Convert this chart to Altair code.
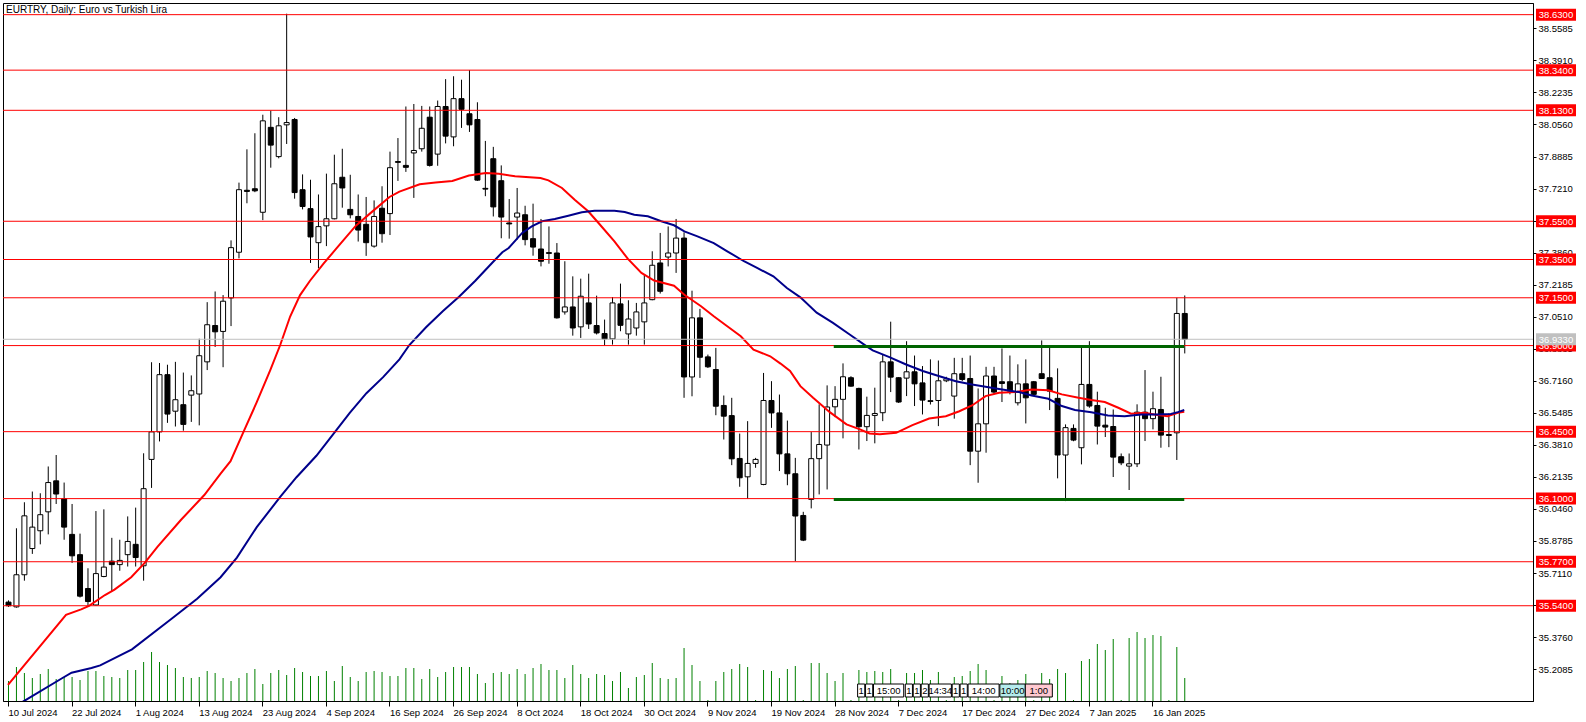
import altair as alt
import pandas as pd

# ---------------- data ----------------
opens = [35.559, 35.534, 35.702, 35.839, 35.932, 36.031, 36.193, 36.100, 35.913, 35.807,
         35.630, 35.544, 35.693, 35.773, 35.755, 35.807, 35.861, 35.749, 36.305, 36.449,
         36.748, 36.557, 36.591, 36.641, 36.647, 36.815, 37.005, 36.974, 37.149, 37.388,
         37.712, 37.720, 37.597, 38.041, 37.888, 38.054, 38.082, 37.715, 37.616, 37.438,
         37.526, 37.563, 37.780, 37.612, 37.575, 37.534, 37.420, 37.618, 37.590, 37.862,
         37.842, 37.907, 37.929, 38.094, 37.901, 38.150, 37.991, 38.191, 38.112, 38.082,
         37.722, 37.877, 37.762, 37.541, 37.572, 37.584, 37.459, 37.405, 37.386, 37.384,
         37.076, 37.102, 36.998, 37.123, 37.005, 36.963, 36.935, 37.118, 36.961, 36.992,
         37.024, 37.140, 37.332, 37.363, 37.384, 37.462, 36.736, 37.045, 36.841, 36.775,
         36.587, 36.534, 36.310, 36.214, 36.284, 36.174, 36.613, 36.548, 36.334, 36.230,
         36.012, 36.096, 36.309, 36.380, 36.580, 36.619, 36.732, 36.676, 36.476, 36.535,
         36.549, 36.815, 36.732, 36.730, 36.763, 36.705, 36.612, 36.613, 36.716, 36.636,
         36.753, 36.728, 36.348, 36.491, 36.741, 36.711, 36.711, 36.601, 36.700, 36.711,
         36.753, 36.732, 36.624, 36.328, 36.467, 36.366, 36.697, 36.587, 36.484, 36.477,
         36.319, 36.270, 36.282, 36.552, 36.518, 36.566, 36.435, 36.444, 37.068]
highs = [35.568, 35.945, 36.081, 36.137, 36.128, 36.268, 36.328, 36.184, 36.072, 35.917,
         35.736, 36.035, 36.044, 35.895, 35.885, 36.007, 36.053, 36.337, 36.813, 36.809,
         36.800, 36.815, 36.759, 36.744, 36.936, 37.127, 37.183, 37.164, 37.450, 37.752,
         37.926, 38.010, 38.107, 38.129, 38.094, 38.635, 38.090, 37.795, 37.767, 37.690,
         37.799, 37.898, 37.929, 37.793, 37.690, 37.677, 37.659, 37.733, 37.914, 37.985,
         38.150, 38.163, 38.153, 38.150, 38.181, 38.293, 38.308, 38.290, 38.340, 38.172,
         37.970, 37.939, 37.842, 37.666, 37.724, 37.631, 37.642, 37.562, 37.523, 37.436,
         37.341, 37.262, 37.250, 37.276, 37.161, 37.036, 37.154, 37.224, 37.137, 37.123,
         37.271, 37.393, 37.489, 37.523, 37.562, 37.492, 37.187, 37.092, 36.853, 36.888,
         36.639, 36.627, 36.440, 36.505, 36.313, 36.757, 36.714, 36.644, 36.508, 36.313,
         36.031, 36.448, 36.593, 36.692, 36.688, 36.807, 36.740, 36.680, 36.633, 36.680,
         36.854, 37.025, 36.735, 36.923, 36.848, 36.793, 36.828, 36.822, 36.737, 36.836,
         36.836, 36.848, 36.676, 36.789, 36.789, 36.885, 36.848, 36.802, 36.828, 36.715,
         36.927, 36.892, 36.781, 36.488, 36.488, 36.892, 36.923, 36.659, 36.575, 36.566,
         36.336, 36.336, 36.593, 36.772, 36.659, 36.737, 36.545, 37.150, 37.162]
lows = [35.534, 35.530, 35.671, 35.811, 35.861, 35.913, 36.072, 35.885, 35.764, 35.583,
        35.540, 35.540, 35.689, 35.615, 35.723, 35.745, 35.745, 35.671, 36.156, 36.399,
        36.496, 36.477, 36.455, 36.501, 36.483, 36.772, 36.893, 36.787, 37.002, 37.356,
        37.644, 37.702, 37.556, 37.830, 37.879, 37.954, 37.668, 37.612, 37.332, 37.304,
        37.420, 37.560, 37.621, 37.565, 37.444, 37.369, 37.412, 37.438, 37.478, 37.761,
        37.808, 37.672, 37.914, 37.836, 37.840, 37.957, 37.942, 38.038, 38.017, 37.761,
        37.681, 37.575, 37.461, 37.459, 37.454, 37.424, 37.370, 37.314, 37.328, 37.041,
        37.062, 36.952, 36.940, 36.987, 36.958, 36.900, 36.905, 36.975, 36.905, 36.952,
        36.905, 37.137, 37.172, 37.314, 37.280, 36.627, 36.635, 36.731, 36.783, 36.536,
        36.409, 36.275, 36.162, 36.099, 36.261, 36.170, 36.470, 36.244, 36.170, 35.773,
        35.878, 36.049, 36.122, 36.148, 36.526, 36.415, 36.685, 36.357, 36.401, 36.389,
        36.505, 36.657, 36.600, 36.636, 36.584, 36.540, 36.592, 36.479, 36.709, 36.518,
        36.714, 36.275, 36.183, 36.340, 36.645, 36.605, 36.645, 36.587, 36.493, 36.640,
        36.725, 36.563, 36.206, 36.087, 36.400, 36.279, 36.575, 36.383, 36.422, 36.213,
        36.275, 36.145, 36.265, 36.401, 36.462, 36.366, 36.369, 36.302, 36.859]
closes = [35.540, 35.702, 36.010, 35.951, 36.016, 36.184, 36.124, 35.951, 35.801, 35.590,
          35.562, 35.708, 35.742, 35.755, 35.777, 35.876, 35.792, 36.152, 36.449, 36.748,
          36.542, 36.617, 36.488, 36.664, 36.847, 37.009, 36.972, 37.132, 37.412, 37.715,
          37.706, 37.709, 38.075, 37.948, 38.049, 38.066, 37.700, 37.627, 37.468, 37.522,
          37.563, 37.746, 37.724, 37.584, 37.504, 37.438, 37.575, 37.485, 37.830, 37.858,
          37.832, 37.920, 38.036, 37.842, 38.150, 37.995, 38.191, 38.135, 38.054, 37.765,
          37.718, 37.625, 37.572, 37.536, 37.593, 37.454, 37.415, 37.341, 37.382, 37.045,
          37.102, 36.992, 37.158, 37.013, 36.966, 36.935, 37.123, 37.006, 37.039, 37.076,
          37.123, 37.320, 37.184, 37.384, 37.462, 36.736, 37.045, 36.839, 36.789, 36.583,
          36.531, 36.308, 36.209, 36.284, 36.305, 36.613, 36.548, 36.334, 36.230, 36.009,
          35.883, 36.309, 36.383, 36.579, 36.619, 36.737, 36.688, 36.476, 36.535, 36.545,
          36.815, 36.735, 36.605, 36.763, 36.700, 36.615, 36.608, 36.716, 36.726, 36.753,
          36.723, 36.348, 36.491, 36.741, 36.657, 36.702, 36.662, 36.700, 36.627, 36.645,
          36.728, 36.662, 36.328, 36.471, 36.406, 36.697, 36.584, 36.479, 36.474, 36.317,
          36.287, 36.282, 36.552, 36.518, 36.570, 36.432, 36.430, 37.068, 36.933]
tick_volumes = [20, 34, 28, 23, 27, 32, 22, 24, 24, 21, 30, 30, 25, 24, 23, 31, 31, 39, 49, 39,
                36, 33, 24, 23, 24, 30, 28, 23, 20, 23, 28, 32, 17, 28, 31, 26, 33, 29, 25, 25,
                30, 20, 35, 24, 20, 29, 30, 29, 25, 25, 33, 33, 22, 32, 24, 29, 34, 34, 34, 27,
                18, 28, 29, 27, 32, 27, 33, 37, 31, 31, 23, 36, 27, 23, 27, 26, 20, 29, 13, 24,
                26, 38, 23, 22, 23, 53, 36, 20, 1, 20, 29, 32, 37, 34, 1, 31, 30, 23, 32, 35,
                1, 38, 38, 28, 20, 28, 1, 31, 29, 30, 29, 32, 1, 28, 28, 31, 21, 29, 1, 24,
                25, 30, 37, 31, 1, 25, 18, 21, 27, 1, 28, 22, 32, 28, 1, 40, 42, 57, 51, 62,
                1, 63, 69, 63, 66, 65, 1, 54, 23]
tick_volumes = [v * 1000 for v in tick_volumes]
bar_index = list(range(len(opens)))

ma_red_bars = [0, 7.3, 9.2, 10.2, 12.2, 13.4, 15.5, 17.2, 18.8, 21.75, 24.7, 26.75, 28, 29.7,
               31.3, 33, 34.25, 35.5, 36.75, 38, 39.7, 41.3, 43.8, 45.9, 48, 49.25, 51.8, 53.8,
               55.9, 58, 60.1, 61.75, 63.8, 67, 68, 69.7, 71.3, 73, 74.3, 76.3, 78, 79.7, 81.3,
               83.8, 85.1, 87.2, 88.8, 90.5, 92.2, 93.8, 95.9, 97.2, 98.4, 99.7, 101.3, 103.4,
               105.5, 107.2, 108.4, 109.7, 111.75, 113.8, 115.9, 118, 119.7, 121.3, 123, 124.7,
               126.75, 128.8, 130.9, 132.6, 134.7, 136.3, 138, 139.7, 141.3, 143, 144.25, 145.9,
               147.2, 148]
ma_red_vals = [35.126, 35.492, 35.521, 35.539, 35.596, 35.624, 35.689, 35.764, 35.848, 35.988,
               36.119, 36.231, 36.296, 36.455, 36.604, 36.772, 36.903, 37.052, 37.164, 37.239,
               37.328, 37.407, 37.528, 37.603, 37.677, 37.705, 37.743, 37.752, 37.761, 37.789,
               37.802, 37.798, 37.785, 37.776, 37.764, 37.724, 37.663, 37.602, 37.541, 37.445,
               37.353, 37.280, 37.240, 37.213, 37.166, 37.106, 37.053, 37.001, 36.949, 36.879,
               36.844, 36.806, 36.767, 36.688, 36.627, 36.552, 36.488, 36.462, 36.441, 36.437,
               36.444, 36.484, 36.519, 36.531, 36.557, 36.587, 36.636, 36.653, 36.657, 36.671,
               36.666, 36.645, 36.627, 36.615, 36.605, 36.575, 36.544, 36.549, 36.540, 36.531,
               36.549, 36.554]
ma_blue_bars = [0, 2.2, 6.8, 8, 10.5, 11.6, 15.6, 20.5, 23.8, 26.75, 28.8, 31.3, 34.25, 36.3,
                38.8, 40.9, 43, 45.1, 47.2, 49.25, 50.5, 52.6, 54.7, 56.75, 58.8, 60.9, 62.2, 63,
                64.7, 65.9, 67.2, 68.8, 70.5, 72.2, 73.8, 76.3, 77.6, 78.8, 80.5, 82.2, 83.8, 85.1,
                86.75, 88.8, 90.5, 92.6, 94.25, 96.3, 98, 99.7, 101.75, 103.8, 105.9, 108, 108.8,
                110.9, 113, 115.1, 117.2, 119.25, 121.3, 123, 124.7, 127.2, 128.8, 130.9, 132.6,
                134.25, 136.3, 138.4, 140.5, 142.6, 144.7, 146.3, 147.2, 148]
ma_blue_vals = [34.990, 35.047, 35.161, 35.190, 35.215, 35.228, 35.312, 35.469, 35.577, 35.689,
                35.792, 35.951, 36.109, 36.212, 36.324, 36.436, 36.548, 36.651, 36.735, 36.828,
                36.903, 36.996, 37.080, 37.155, 37.239, 37.332, 37.388, 37.410, 37.489, 37.523,
                37.550, 37.562, 37.579, 37.597, 37.605, 37.605, 37.598, 37.584, 37.576, 37.550,
                37.529, 37.497, 37.471, 37.436, 37.393, 37.341, 37.306, 37.262, 37.201, 37.152,
                37.072, 37.019, 36.958, 36.897, 36.875, 36.840, 36.801, 36.767, 36.740, 36.714,
                36.697, 36.685, 36.673, 36.657, 36.639, 36.622, 36.584, 36.563, 36.552, 36.535,
                36.531, 36.540, 36.540, 36.542, 36.552, 36.563]

date_labels = ["10 Jul 2024", "22 Jul 2024", "1 Aug 2024", "13 Aug 2024", "23 Aug 2024",
               "4 Sep 2024", "16 Sep 2024", "26 Sep 2024", "8 Oct 2024", "18 Oct 2024",
               "30 Oct 2024", "9 Nov 2024", "19 Nov 2024", "28 Nov 2024", "7 Dec 2024",
               "17 Dec 2024", "27 Dec 2024", "7 Jan 2025", "16 Jan 2025"]
date_label_bars = [0, 8, 16, 24, 32, 40, 48, 56, 64, 72, 80, 88, 96, 104, 112, 120, 128, 136, 144]

price_ticks = [38.5585, 38.3910, 38.2235, 38.0560, 37.8885, 37.7210, 37.5535, 37.3860, 37.2185,
               37.0510, 36.8835, 36.7160, 36.5485, 36.3810, 36.2135, 36.0460, 35.8785, 35.7110,
               35.5435, 35.3760, 35.2085]
levels = [38.63, 38.34, 38.13, 37.55, 37.35, 37.15, 36.90, 36.45, 36.10, 35.77, 35.54]
range_levels = [36.90, 36.10]
range_start_bar = 103.9
range_end_bar = 148
last_price = 36.9330

event_labels = ["1", "1", "15:00", "1", "1", "2", "14:34", "1", "1", "14:00", "10:00", "1:00"]
event_start = [106.9, 107.9, 108.9, 112.9, 113.9, 114.9, 115.9, 118.8, 119.8, 120.8, 124.8, 128.0]
event_end = [107.8, 108.8, 112.7, 113.8, 114.8, 115.8, 118.7, 119.7, 120.7, 124.7, 128.0, 131.4]
event_fill = ["white"] * 10 + ["#b4ecec", "#ffc8d0"]

title_text = "EURTRY, Daily:  Euro vs Turkish Lira"

# ---------------- chart ----------------
FONT = "Liberation Sans"
FS = 9.5
W, H = 1530, 698
XD = [0, 191.25]
YD = [35.042, 38.691]


def xs():
    return alt.Scale(domain=XD, nice=False, zero=False)


def ys():
    return alt.Scale(domain=YD, nice=False, zero=False)


df = pd.DataFrame({"bar": bar_index, "open": opens, "high": highs, "low": lows,
                   "close": closes, "vol": tick_volumes})
red_df = pd.DataFrame({"bar": ma_red_bars, "v": ma_red_vals})
blue_df = pd.DataFrame({"bar": ma_blue_bars, "v": ma_blue_vals})
lvl_df = pd.DataFrame({"p": levels, "t": [f"{v:.4f}" for v in levels]})
rng_df = pd.DataFrame({"p": range_levels, "b0": [range_start_bar] * 2, "b1": [range_end_bar] * 2})
last_df = pd.DataFrame({"p": [last_price], "t": [f"{last_price:.4f}"]})
ev_df = pd.DataFrame({"t": event_labels, "b0": event_start, "b1": event_end, "f": event_fill})
ev_df["bm"] = (ev_df["b0"] + ev_df["b1"]) / 2
title_df = pd.DataFrame({"t": [title_text]})

label_expr = "[" + ",".join(f"'{s}'" for s in date_labels) + "][round(datum.value / 8)]"

x_axis = alt.Axis(values=date_label_bars, labelExpr=label_expr, labelAlign="left",
                  labelFont=FONT, labelFontSize=FS, labelColor="black", tickColor="black",
                  tickSize=5, domainColor="black", grid=False, title=None, labelPadding=1,
                  labelOverlap=False, labelFlush=False)
y_axis = alt.Axis(orient="right", values=price_ticks, format=".4f", labelFont=FONT,
                  labelFontSize=FS, labelColor="black", tickColor="black", tickSize=3,
                  domainColor="black", grid=False, title=None, labelPadding=2,
                  labelOverlap=False, labelFlush=False)

volume = alt.Chart(df).mark_rule(color="#008000", strokeWidth=1, xOffset=0.5, clip=True).encode(
    x=alt.X("bar:Q", scale=xs(), axis=x_axis),
    y=alt.Y("vol:Q", scale=alt.Scale(domain=[0, 698000], nice=False), axis=None),
    y2=alt.datum(0),
)
wick = alt.Chart(df).mark_rule(color="black", strokeWidth=1, xOffset=0.5, clip=True).encode(
    x=alt.X("bar:Q", scale=xs()),
    y=alt.Y("low:Q", scale=ys(), axis=y_axis),
    y2="high:Q",
)
body = alt.Chart(df).mark_bar(size=5, stroke="black", strokeWidth=1, xOffset=0.5, clip=True).encode(
    x=alt.X("bar:Q", scale=xs()),
    y=alt.Y("open:Q", scale=ys(), axis=None),
    y2="close:Q",
    fill=alt.condition("datum.close >= datum.open", alt.value("white"), alt.value("black")),
)
red_ma = alt.Chart(red_df).mark_line(color="#ff0000", strokeWidth=2, clip=True).encode(
    x=alt.X("bar:Q", scale=xs()), y=alt.Y("v:Q", scale=ys(), axis=None))
blue_ma = alt.Chart(blue_df).mark_line(color="#00008b", strokeWidth=2, clip=True).encode(
    x=alt.X("bar:Q", scale=xs()), y=alt.Y("v:Q", scale=ys(), axis=None))

lvl_rules = alt.Chart(lvl_df).mark_rule(color="#ff0000", strokeWidth=1).encode(
    y=alt.Y("p:Q", scale=ys(), axis=None))
last_rule = alt.Chart(last_df).mark_rule(color="#c0c0c0", strokeWidth=1).encode(
    y=alt.Y("p:Q", scale=ys(), axis=None))
rng_rules = alt.Chart(rng_df).mark_rule(color="#006400", strokeWidth=3, yOffset=1).encode(
    x=alt.X("b0:Q", scale=xs()), x2="b1:Q", y=alt.Y("p:Q", scale=ys(), axis=None))

lvl_box = alt.Chart(lvl_df).mark_rule(color="#ff0000", strokeWidth=12, clip=False).encode(
    x=alt.value(W + 3), x2=alt.value(W + 43), y=alt.Y("p:Q", scale=ys(), axis=None))
lvl_txt = alt.Chart(lvl_df).mark_text(color="white", font=FONT, fontSize=FS, align="center",
                                      baseline="middle", dy=0.5, clip=False).encode(
    x=alt.value(W + 23), y=alt.Y("p:Q", scale=ys(), axis=None), text="t:N")
last_box = alt.Chart(last_df).mark_rule(color="#c0c0c0", strokeWidth=12, clip=False).encode(
    x=alt.value(W + 3), x2=alt.value(W + 43), y=alt.Y("p:Q", scale=ys(), axis=None))
last_txt = alt.Chart(last_df).mark_text(color="white", font=FONT, fontSize=FS, align="center",
                                        baseline="middle", dy=0.5, clip=False).encode(
    x=alt.value(W + 23), y=alt.Y("p:Q", scale=ys(), axis=None), text="t:N")

ev_rect = alt.Chart(ev_df).mark_rect(stroke="black", strokeWidth=1).encode(
    x=alt.X("b0:Q", scale=xs()), x2="b1:Q",
    y=alt.value(H - 17), y2=alt.value(H - 4),
    fill=alt.Fill("f:N", scale=None))
ev_txt = alt.Chart(ev_df).mark_text(color="black", font=FONT, fontSize=FS, align="center",
                                    baseline="middle").encode(
    x=alt.X("bm:Q", scale=xs()), y=alt.value(H - 10), text="t:N")

title = alt.Chart(title_df).mark_text(color="black", font=FONT, fontSize=FS + 0.5, align="left",
                                      baseline="alphabetic").encode(
    x=alt.value(3), y=alt.value(10), text="t:N")

chart = alt.layer(volume, wick, body, red_ma, blue_ma, lvl_rules, last_rule, rng_rules,
                  lvl_box, lvl_txt, last_box, last_txt, ev_rect, ev_txt, title
                  ).resolve_scale(y="independent").properties(
    width=W, height=H,
    padding={"left": 3, "top": 3, "right": 53, "bottom": 21},
    autosize=alt.AutoSizeParams(type="none"),
    background="white",
).configure_view(stroke="black", strokeWidth=1)

chart.save("out.html", embed_options={"renderer": "svg", "actions": False})
